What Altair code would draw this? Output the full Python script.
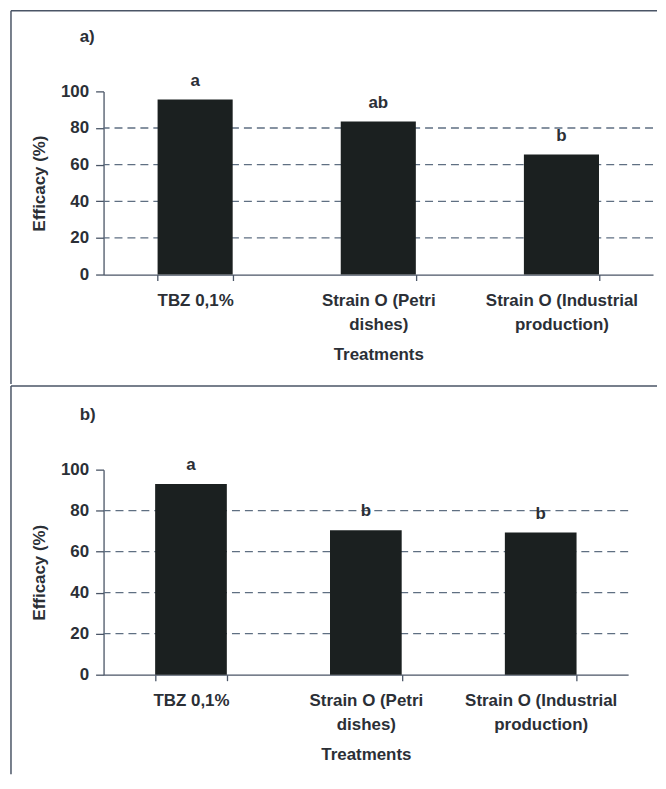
import altair as alt
import pandas as pd

# ---- data ----
treatments = ["TBZ 0,1%", "Strain O (Petri\ndishes)", "Strain O (Industrial\nproduction)"]
efficacy_a = [95.6, 83.5, 65.5]
efficacy_b = [93.0, 70.5, 69.3]
letters_a = ["a", "ab", "b"]
letters_b = ["a", "b", "b"]
grid_values = [20, 40, 60, 80]
y_ticks = [0, 20, 40, 60, 80, 100]
panel_labels = ["a)", "b)"]

FONT = "Liberation Sans"
FS = 17
BAR = "#1b2020"
INK = "#2b2f36"
FRAME = "#4a5566"
GRID = "#5f6f82"


def panel(values, letters, label, width, height, frame_top, frame_bottom, right_edge):
    df = pd.DataFrame({"Treatment": treatments, "Efficacy": values, "Letter": letters})
    grid_df = pd.DataFrame({"g": grid_values})
    one = pd.DataFrame({"k": [0]})

    yscale = alt.Scale(domain=[0, 100], nice=False)
    xscale = alt.Scale(paddingInner=0.59, paddingOuter=0.295)
    x_axis = alt.Axis(
        title="Treatments",
        labelAngle=0,
        labelExpr="split(datum.label, '\\n')",
        labelLineHeight=24,
        labelFont=FONT, labelFontSize=FS, labelFontWeight="bold", labelColor=INK,
        labelPadding=12,
        tickBand="extent", tickSize=6, tickColor=FRAME, tickWidth=1.3,
        domainColor=FRAME, domainWidth=1.3,
        titleFont=FONT, titleFontSize=FS, titleFontWeight="bold", titleColor=INK,
        titlePadding=14,
    )
    y_axis = alt.Axis(
        title="Efficacy (%)",
        values=y_ticks,
        grid=False,
        labelOverlap=False,
        labelFont=FONT, labelFontSize=FS, labelFontWeight="bold", labelColor=INK,
        labelPadding=7,
        tickSize=8, tickColor=FRAME, tickWidth=1.3,
        domainColor=FRAME, domainWidth=1.3,
        titleFont=FONT, titleFontSize=FS, titleFontWeight="bold", titleColor=INK,
        titlePadding=12,
    )

    grid = alt.Chart(grid_df).mark_rule(
        strokeDash=[8, 5], color=GRID, strokeWidth=1.3
    ).encode(y=alt.Y("g:Q", scale=yscale, axis=y_axis, title="Efficacy (%)"))

    bars = alt.Chart(df).mark_bar(color=BAR).encode(
        x=alt.X("Treatment:N", sort=treatments, scale=xscale, axis=x_axis, title="Treatments"),
        y=alt.Y("Efficacy:Q", scale=yscale, axis=y_axis, title="Efficacy (%)"),
    )

    text = alt.Chart(df).mark_text(
        baseline="bottom", dy=-10, font=FONT, fontSize=FS, fontWeight="bold", color=INK
    ).encode(
        x=alt.X("Treatment:N", sort=treatments, scale=xscale, axis=x_axis, title="Treatments"),
        y=alt.Y("Efficacy:Q", scale=yscale, axis=y_axis, title="Efficacy (%)"),
        text="Letter:N",
    )

    plabel = alt.Chart(one).mark_text(
        align="left", baseline="middle", font=FONT, fontSize=FS, fontWeight="bold", color=INK
    ).encode(x=alt.value(-24), y=alt.value(-55), text=alt.value(label))

    left = alt.Chart(one).mark_rule(color=FRAME, strokeWidth=1.5).encode(
        x=alt.value(-93), y=alt.value(frame_top), y2=alt.value(frame_bottom)
    )
    top = alt.Chart(one).mark_rule(color=FRAME, strokeWidth=1.5).encode(
        x=alt.value(-93), x2=alt.value(right_edge), y=alt.value(frame_top)
    )
    return alt.layer(grid, bars, text, plabel, left, top).properties(width=width, height=height)


top_panel = panel(efficacy_a, letters_a, panel_labels[0], 552, 184, -81, 294, 556)
bottom_panel = panel(efficacy_b, letters_b, panel_labels[1], 527, 206, -84, 306, 556)

chart = alt.vconcat(top_panel, bottom_panel, spacing=0).properties(
    padding={"left": 2, "top": 0, "right": 0, "bottom": 0},
    background="white",
).configure_view(strokeWidth=0, stroke=None)

chart.save("out.html", embed_options={"renderer": "svg", "actions": False})
